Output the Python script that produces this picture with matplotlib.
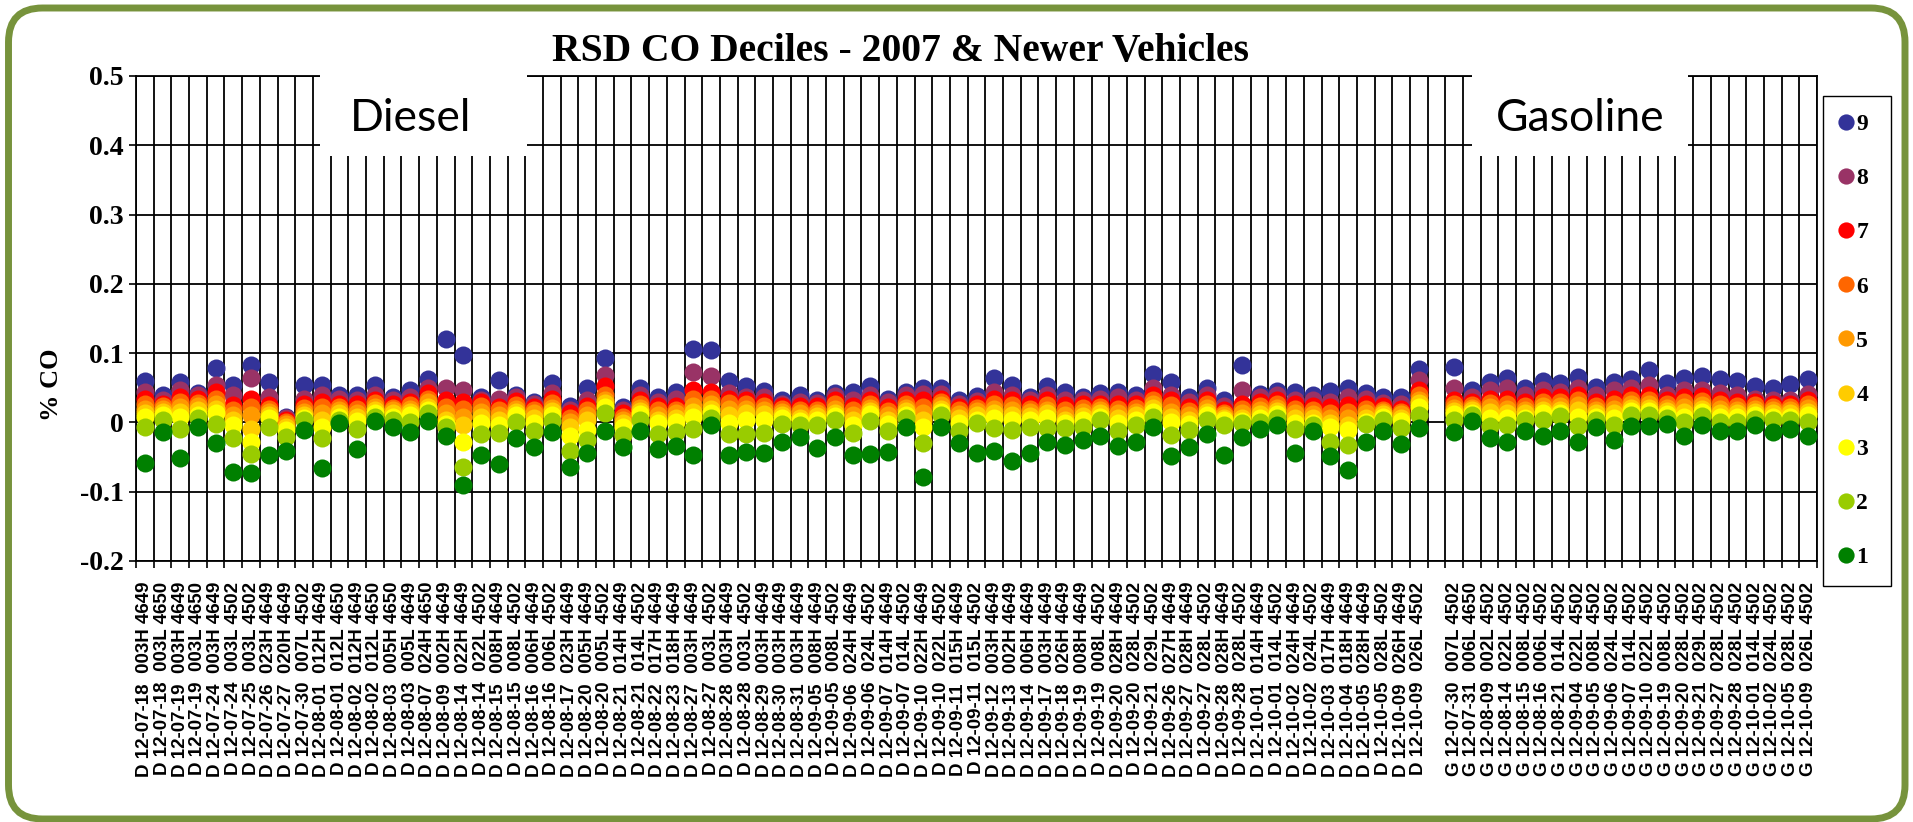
import numpy as np
import matplotlib
matplotlib.use('Agg')
import matplotlib.pyplot as plt
from matplotlib.patches import FancyBboxPatch, Rectangle
from matplotlib.transforms import IdentityTransform

nan = np.nan

# category labels (two spaces between date and site/id as in the source)
diesel_labels = [
    "12-07-18  003H 4649", "12-07-18  003L 4650", "12-07-19  003H 4649", "12-07-19  003L 4650",
    "12-07-24  003H 4649", "12-07-24  003L 4502", "12-07-25  003L 4502", "12-07-26  023H 4649",
    "12-07-27  020H 4649", "12-07-30  007L 4502", "12-08-01  012H 4649", "12-08-01  012L 4650",
    "12-08-02  012H 4649", "12-08-02  012L 4650", "12-08-03  005H 4650", "12-08-03  005L 4649",
    "12-08-07  024H 4650", "12-08-09  002H 4649", "12-08-14  022H 4649", "12-08-14  022L 4502",
    "12-08-15  008H 4649", "12-08-15  008L 4502", "12-08-16  006H 4649", "12-08-16  006L 4502",
    "12-08-17  023H 4649", "12-08-20  005H 4649", "12-08-20  005L 4502", "12-08-21  014H 4649",
    "12-08-21  014L 4502", "12-08-22  017H 4649", "12-08-23  018H 4649", "12-08-27  003H 4649",
    "12-08-27  003L 4502", "12-08-28  003H 4649", "12-08-28  003L 4502", "12-08-29  003H 4649",
    "12-08-30  003H 4649", "12-08-31  003H 4649", "12-09-05  008H 4649", "12-09-05  008L 4502",
    "12-09-06  024H 4649", "12-09-06  024L 4502", "12-09-07  014H 4649", "12-09-07  014L 4502",
    "12-09-10  022H 4649", "12-09-10  022L 4502", "12-09-11  015H 4649", "12-09-11  015L 4502",
    "12-09-12  003H 4649", "12-09-13  002H 4649", "12-09-14  006H 4649", "12-09-17  003H 4649",
    "12-09-18  026H 4649", "12-09-19  008H 4649", "12-09-19  008L 4502", "12-09-20  028H 4649",
    "12-09-20  028L 4502", "12-09-21  029L 4502", "12-09-26  027H 4649", "12-09-27  028H 4649",
    "12-09-27  028L 4502", "12-09-28  028H 4649", "12-09-28  028L 4502", "12-10-01  014H 4649",
    "12-10-01  014L 4502", "12-10-02  024H 4649", "12-10-02  024L 4502", "12-10-03  017H 4649",
    "12-10-04  018H 4649", "12-10-05  028H 4649", "12-10-05  028L 4502", "12-10-09  026H 4649",
    "12-10-09  026L 4502",
]
gas_labels = [
    "12-07-30  007L 4502", "12-07-31  006L 4650", "12-08-09  002L 4502", "12-08-14  022L 4502",
    "12-08-15  008L 4502", "12-08-16  006L 4502", "12-08-21  014L 4502", "12-09-04  022L 4502",
    "12-09-05  008L 4502", "12-09-06  024L 4502", "12-09-07  014L 4502", "12-09-10  022L 4502",
    "12-09-19  008L 4502", "12-09-20  028L 4502", "12-09-21  029L 4502", "12-09-27  028L 4502",
    "12-09-28  028L 4502", "12-10-01  014L 4502", "12-10-02  024L 4502", "12-10-05  028L 4502",
    "12-10-09  026L 4502",
]
labels = ["D " + s for s in diesel_labels] + [""] + ["G " + s for s in gas_labels]

# % CO per decile (index 73 is the empty gap between diesel and gasoline)
d9 = [0.0595, 0.039, 0.0585, 0.042, 0.078, 0.054, 0.0835, 0.0585, 0.008, 0.054,
      0.0545, 0.039, 0.039, 0.0535, 0.037, 0.0465, 0.0625, 0.120, 0.097, 0.037,
      0.061, 0.040, 0.030, 0.0575, 0.0235, 0.050, 0.093, 0.0225, 0.049, 0.037,
      0.044, 0.106, 0.104, 0.0595, 0.052, 0.0455, 0.032, 0.039, 0.033, 0.0425,
      0.044, 0.052, 0.0345, 0.044, 0.050, 0.050, 0.032, 0.038, 0.0645, 0.0535,
      0.037, 0.052, 0.044, 0.036, 0.042, 0.044, 0.039, 0.0705, 0.0585, 0.037,
      0.050, 0.032, 0.0825, 0.041, 0.0455, 0.044, 0.039, 0.0455, 0.050, 0.042,
      0.036, 0.036, 0.0775, nan, 0.080, 0.0465, 0.0585, 0.0645, 0.049, 0.060,
      0.057, 0.0655, 0.0515, 0.0585, 0.063, 0.075, 0.057, 0.0645, 0.0665, 0.062,
      0.060, 0.052, 0.049, 0.056, 0.062]
d8 = [0.044, 0.032, 0.0475, 0.039, 0.054, 0.039, 0.064, 0.037, 0.007, 0.0345,
      0.040, 0.0335, 0.032, 0.040, 0.032, 0.037, 0.050, 0.049, 0.0465, 0.032,
      0.0345, 0.037, 0.026, 0.0425, 0.018, 0.032, 0.068, 0.018, 0.039, 0.0295,
      0.0345, 0.073, 0.0665, 0.0425, 0.037, 0.037, 0.027, 0.0295, 0.028, 0.038,
      0.033, 0.040, 0.0295, 0.039, 0.041, 0.0415, 0.026, 0.031, 0.044, 0.040,
      0.032, 0.039, 0.033, 0.032, 0.0345, 0.036, 0.032, 0.049, 0.039, 0.0295,
      0.039, 0.0235, 0.0465, 0.036, 0.039, 0.033, 0.032, 0.0295, 0.036, 0.0345,
      0.028, 0.026, 0.061, nan, 0.049, 0.037, 0.0465, 0.049, 0.039, 0.0465,
      0.044, 0.049, 0.039, 0.0465, 0.049, 0.0535, 0.039, 0.0465, 0.0475, 0.0425,
      0.040, 0.0345, 0.032, 0.032, 0.0415]
d7 = [0.0345, 0.027, 0.037, 0.0345, 0.044, 0.025, 0.0345, 0.025, 0.004, 0.026,
      0.030, 0.027, 0.026, 0.033, 0.026, 0.030, 0.042, 0.033, 0.030, 0.030,
      0.0225, 0.031, 0.0225, 0.0345, 0.013, 0.0235, 0.052, 0.013, 0.032, 0.0235,
      0.0235, 0.0475, 0.044, 0.0345, 0.032, 0.030, 0.0235, 0.0235, 0.0235, 0.032,
      0.0235, 0.032, 0.0225, 0.032, 0.032, 0.0345, 0.0225, 0.026, 0.0345, 0.032,
      0.026, 0.032, 0.025, 0.026, 0.027, 0.027, 0.026, 0.039, 0.032, 0.0225,
      0.032, 0.0185, 0.027, 0.030, 0.032, 0.026, 0.0235, 0.0225, 0.025, 0.027,
      0.0235, 0.020, 0.0465, nan, 0.032, 0.030, 0.0345, 0.0345, 0.030, 0.037,
      0.037, 0.039, 0.030, 0.0345, 0.039, 0.039, 0.032, 0.037, 0.038, 0.032,
      0.030, 0.0295, 0.027, 0.027, 0.032]
d6 = [0.0273, 0.0235, 0.030, 0.028, 0.0345, 0.018, 0.0225, 0.020, 0.001, 0.0215,
      0.0225, 0.0225, 0.020, 0.0275, 0.0215, 0.025, 0.0345, 0.0225, 0.020, 0.0235,
      0.018, 0.025, 0.018, 0.0275, 0.007, 0.018, 0.039, 0.008, 0.026, 0.018,
      0.018, 0.0345, 0.0345, 0.0275, 0.026, 0.0235, 0.020, 0.018, 0.0185, 0.026,
      0.018, 0.026, 0.017, 0.026, 0.0225, 0.030, 0.018, 0.0215, 0.026, 0.025,
      0.020, 0.025, 0.018, 0.0215, 0.0225, 0.020, 0.0215, 0.033, 0.025, 0.017,
      0.026, 0.014, 0.020, 0.0235, 0.026, 0.020, 0.018, 0.013, 0.0155, 0.020,
      0.0185, 0.015, 0.039, nan, 0.026, 0.025, 0.028, 0.027, 0.0235, 0.030,
      0.030, 0.032, 0.0235, 0.027, 0.032, 0.032, 0.026, 0.030, 0.031, 0.026,
      0.0235, 0.025, 0.0225, 0.0225, 0.027]
d5 = [0.020, 0.020, 0.0225, 0.0235, 0.027, 0.0105, 0.0105, 0.015, -0.002, 0.015,
      0.013, 0.018, 0.014, 0.0225, 0.018, 0.020, 0.030, 0.013, 0.008, 0.0155,
      0.0105, 0.020, 0.013, 0.0215, 0.001, 0.0105, 0.033, 0.004, 0.0215, 0.0105,
      0.013, 0.0235, 0.027, 0.020, 0.020, 0.018, 0.015, 0.013, 0.014, 0.020,
      0.0105, 0.0215, 0.0105, 0.0215, 0.013, 0.025, 0.012, 0.017, 0.020, 0.018,
      0.015, 0.0185, 0.0105, 0.015, 0.018, 0.013, 0.015, 0.027, 0.015, 0.0105,
      0.0215, 0.0105, 0.013, 0.018, 0.0215, 0.013, 0.012, 0.006, 0.006, 0.013,
      0.015, 0.012, 0.033, nan, 0.0215, 0.0215, 0.0225, 0.020, 0.018, 0.0235,
      0.0235, 0.025, 0.018, 0.020, 0.026, 0.026, 0.0215, 0.0225, 0.025, 0.020,
      0.0185, 0.020, 0.0175, 0.0175, 0.0215]
d4 = [0.013, 0.015, 0.015, 0.018, 0.020, 0.003, -0.009, 0.0105, -0.006, 0.0105,
      0.003, 0.013, 0.008, 0.0175, 0.013, 0.015, 0.0225, 0.003, -0.003, 0.008,
      0.003, 0.015, 0.006, 0.017, -0.006, 0.003, 0.0275, -0.0005, 0.017, 0.004,
      0.007, 0.015, 0.020, 0.0105, 0.013, 0.012, 0.0105, 0.007, 0.009, 0.014,
      0.003, 0.017, 0.004, 0.017, 0.003, 0.020, 0.006, 0.0105, 0.013, 0.0105,
      0.009, 0.013, 0.004, 0.009, 0.013, 0.006, 0.0105, 0.0215, 0.008, 0.004,
      0.015, 0.007, 0.007, 0.0115, 0.017, 0.006, 0.006, -0.0015, -0.004, 0.006,
      0.012, 0.007, 0.0275, nan, 0.017, 0.018, 0.015, 0.013, 0.013, 0.018,
      0.018, 0.018, 0.013, 0.013, 0.0215, 0.0215, 0.017, 0.015, 0.020, 0.014,
      0.014, 0.015, 0.013, 0.013, 0.015]
d3 = [0.008, 0.011, 0.008, 0.0105, 0.013, -0.004, -0.028, 0.006, -0.011, 0.006,
      -0.006, 0.008, 0.002, 0.013, 0.008, 0.0105, 0.018, -0.002, -0.028, -0.0015,
      -0.004, 0.0105, -0.0015, 0.0105, -0.020, -0.011, 0.0225, -0.006, 0.012, -0.0015,
      0.001, 0.008, 0.013, -0.0015, 0.003, 0.003, 0.006, 0.002, 0.004, 0.009,
      -0.004, 0.0115, -0.0025, 0.0105, -0.006, 0.015, -0.0005, 0.004, 0.006, 0.003,
      0.003, 0.006, -0.0015, 0.003, 0.008, -0.0015, 0.004, 0.015, 0.001, -0.0025,
      0.0105, 0.003, 0.002, 0.006, 0.012, -0.0015, -0.0005, -0.006, -0.011, 0.001,
      0.008, 0.002, 0.0225, nan, 0.012, 0.014, 0.007, 0.006, 0.007, 0.013,
      0.013, 0.008, 0.008, 0.006, 0.017, 0.017, 0.012, 0.008, 0.015, 0.008,
      0.008, 0.0105, 0.008, 0.008, 0.0105]
d2 = [-0.006, 0.003, -0.010, 0.006, -0.002, -0.022, -0.046, -0.006, -0.021, 0.003,
      -0.023, 0.003, -0.009, 0.008, 0.004, 0.001, 0.013, -0.006, -0.064, -0.017,
      -0.015, 0.000, -0.0125, 0.002, -0.041, -0.0255, 0.013, -0.018, 0.004, -0.016,
      -0.0135, -0.010, 0.006, -0.017, -0.016, -0.015, -0.002, -0.004, -0.004, 0.003,
      -0.015, 0.0025, -0.012, 0.006, -0.030, 0.0105, -0.012, -0.0005, -0.0085, -0.011,
      -0.006, -0.0085, -0.0085, -0.006, 0.003, -0.0125, -0.004, 0.008, -0.018, -0.011,
      0.003, -0.004, -0.0015, 0.001, 0.007, -0.010, -0.004, -0.028, -0.0325, -0.0025,
      0.003, -0.0085, 0.0105, nan, 0.004, 0.0105, -0.005, -0.004, 0.004, 0.004,
      0.009, -0.005, 0.004, -0.004, 0.0105, 0.0105, 0.007, 0.001, 0.009, 0.001,
      0.001, 0.0055, 0.003, 0.003, 0.001]
d1 = [-0.058, -0.014, -0.052, -0.006, -0.030, -0.071, -0.073, -0.047, -0.041, -0.011,
      -0.066, -0.0005, -0.039, 0.002, -0.006, -0.014, 0.002, -0.020, -0.090, -0.047,
      -0.060, -0.022, -0.035, -0.014, -0.065, -0.0445, -0.0125, -0.036, -0.012, -0.039,
      -0.0335, -0.047, -0.004, -0.047, -0.042, -0.0445, -0.028, -0.0205, -0.0365, -0.0205,
      -0.047, -0.0455, -0.042, -0.006, -0.079, -0.006, -0.030, -0.0445, -0.041, -0.055,
      -0.0435, -0.028, -0.0325, -0.0255, -0.0195, -0.0335, -0.028, -0.006, -0.0485, -0.035,
      -0.017, -0.047, -0.0205, -0.0095, -0.003, -0.0445, -0.012, -0.049, -0.0685, -0.028,
      -0.012, -0.031, -0.0085, nan, -0.014, 0.002, -0.023, -0.028, -0.012, -0.0195,
      -0.012, -0.028, -0.006, -0.0255, -0.005, -0.005, -0.0025, -0.0195, -0.004, -0.012,
      -0.012, -0.004, -0.0145, -0.009, -0.020]

series_names = ["9", "8", "7", "6", "5", "4", "3", "2", "1"]
series_vals = [d9, d8, d7, d6, d5, d4, d3, d2, d1]
series_colors = ["#333399", "#993366", "#FF0000", "#FF6600", "#FF9900",
                 "#FFCC00", "#FFFF00", "#99CC00", "#008000"]

yticks = [-0.2, -0.1, 0.0, 0.1, 0.2, 0.3, 0.4, 0.5]
yticklabels = ["-0.2", "-0.1", "0", "0.1", "0.2", "0.3", "0.4", "0.5"]

W, H = 1913, 822
fig = plt.figure(figsize=(W / 100, H / 100), dpi=100)
fig.patch.set_facecolor("white")
ax = fig.add_axes([136 / W, 1 - 561 / H, 1681 / W, 485 / H])

x = np.arange(len(labels))
for name, vals, col in zip(series_names, series_vals, series_colors):
    ax.plot(x, vals, "o", ms=13, color=col, mec=col, mew=0, ls="none",
            label=name, zorder=3)

ax.set_xlim(-0.5, len(labels) - 0.5)
ax.set_ylim(-0.2, 0.5)

ax.set_xticks(x, labels, rotation=90, fontsize=13.5, fontweight="bold",
              family="Liberation Sans")
ax.set_xticks(np.arange(-0.5, len(labels)), minor=True)
ax.tick_params(axis="x", which="major", length=0, pad=15)
ax.tick_params(axis="x", which="minor", length=5, width=1.2, direction="out")
ax.set_yticks(yticks, yticklabels, fontsize=20, fontweight="bold",
              family="Liberation Serif")
ax.tick_params(axis="y", length=4.7, width=1.2, pad=4)

ax.grid(axis="x", which="minor", color="black", lw=1.3)
ax.grid(axis="y", which="major", color="black", lw=1.3)
ax.set_axisbelow(True)
for sp in ax.spines.values():
    sp.set_color("black")
    sp.set_linewidth(1.3)

# white label boxes covering the grid
ax.add_patch(Rectangle((0.1095, 0.835), 0.1231, 0.2, transform=ax.transAxes,
                       fc="white", ec="none", zorder=4, clip_on=False))
ax.text(0.1633, 0.913, "Diesel", transform=ax.transAxes, ha="center", va="center",
        fontsize=32, family="Lato", zorder=5)
ax.add_patch(Rectangle((0.7948, 0.835), 0.1285, 0.2, transform=ax.transAxes,
                       fc="white", ec="none", zorder=4, clip_on=False))
ax.text(0.8593, 0.913, "Gasoline", transform=ax.transAxes, ha="center", va="center",
        fontsize=32, family="Lato", zorder=5)

fig.text(900 / W, 1 - 51 / H, "RSD CO Deciles - 2007 & Newer Vehicles",
         ha="center", va="center", fontsize=28.5, fontweight="bold",
         family="Liberation Serif")
fig.text(51 / W, 1 - 385 / H, "% CO", rotation=90, ha="center", va="center",
         fontsize=19, fontweight="bold", family="Liberation Serif")

leg = fig.legend(loc="upper left",
                 bbox_to_anchor=(1823 / W, 1 - 574 / H, 68 / W, 478 / H),
                 mode="expand", borderaxespad=0, borderpad=0.75, labelspacing=1.38,
                 handlelength=0.46, handletextpad=0.2, markerscale=0.9,
                 fancybox=False, framealpha=1, edgecolor="black",
                 prop={"family": "Liberation Serif", "weight": "bold", "size": 17})
leg.get_frame().set_linewidth(1.0)

# rounded green outer border
fig.add_artist(FancyBboxPatch((8.5, 3), 1896.5, 811,
                              boxstyle="round,pad=0,rounding_size=34",
                              transform=IdentityTransform(), fill=False,
                              ec="#77933C", lw=5))

fig.savefig("out.png", dpi=100, facecolor="white")
